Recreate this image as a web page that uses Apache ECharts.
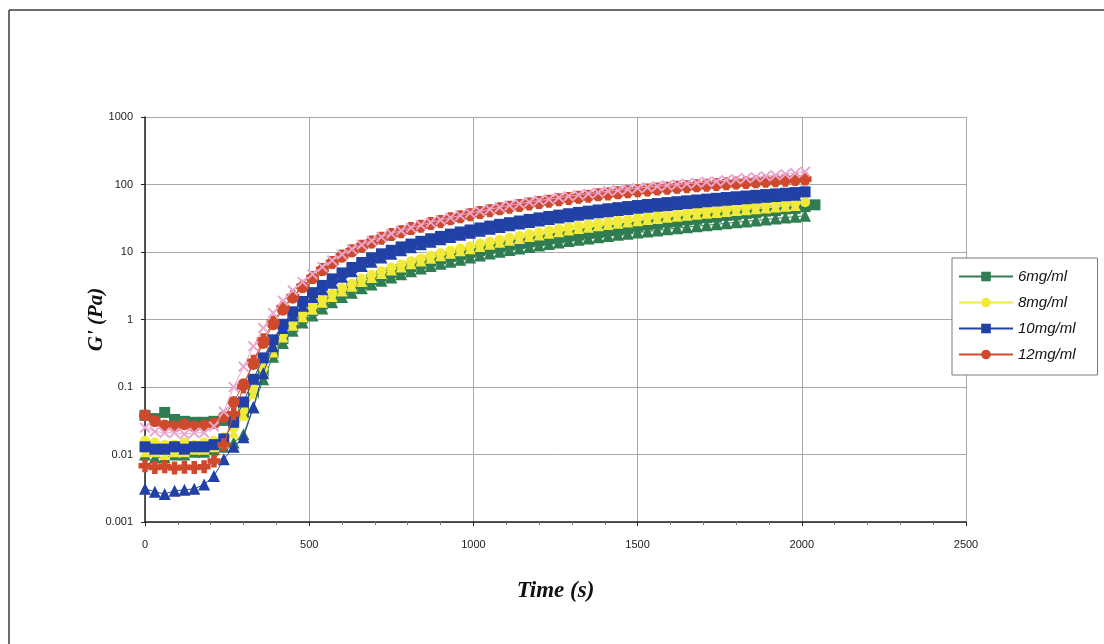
<!DOCTYPE html>
<html>
<head>
<meta charset="utf-8">
<script src="https://cdn.jsdelivr.net/npm/echarts@6/dist/echarts.min.js"></script>
<style>
  html, body { margin: 0; padding: 0; background: #ffffff; }
  #chart { width: 1104px; height: 644px; }
</style>
</head>
<body>
<div id="chart"></div>
<script>
// Storage modulus G' (Pa) against time during gelation, four concentrations plus repeat runs.
const times = [0,30,60,90,120,150,180,210,240,270,300,330,360,390,420,450,480,510,540,570,600,630,660,690,720,750,780,810,840,870,900,930,960,990,1020,1050,1080,1110,1140,1170,1200,1230,1260,1290,1320,1350,1380,1410,1440,1470,1500,1530,1560,1590,1620,1650,1680,1710,1740,1770,1800,1830,1860,1890,1920,1950,1980,2010,2040];

const legendNames = ['6mg/ml', '8mg/ml', '10mg/ml', '12mg/ml'];
const xTickLabels = ['0', '500', '1000', '1500', '2000', '2500'];
const yTickLabels = ['0.001', '0.01', '0.1', '1', '10', '100', '1000'];

// 6 mg/ml
const g6 = [0.038,0.034,0.042,0.033,0.031,0.030,0.030,0.031,0.032,0.034,0.042,0.080,0.17,0.32,0.52,0.78,1.05,1.35,1.7,2.1,2.5,2.95,3.4,3.9,4.4,4.95,5.5,6.1,6.7,7.3,7.9,8.6,9.1,9.9,10.5,11.3,11.9,12.7,13.3,14.1,14.7,15.6,16.2,17.2,17.8,18.9,19.4,20.6,21.0,22.3,24.0,25.2,26.0,27.5,28.2,29.8,30.5,32.2,32.9,34.8,35.4,37.4,38.1,40.3,41.0,43.4,44.2,47.0,50.0];
const g6b = [0.010,0.009,0.009,0.010,0.010,0.011,0.011,0.012,0.013,0.015,0.020,0.050,0.13,0.28,0.45,0.68,0.90,1.15,1.45,1.8,2.15,2.5,2.9,3.3,3.75,4.2,4.7,5.2,5.7,6.2,6.7,7.2,7.7,8.3,8.9,9.5,10.1,10.7,11.3,11.9,12.5,13.1,13.8,14.5,15.2,15.9,16.6,17.3,18.0,18.7,19.4,20.1,20.9,21.7,22.5,23.3,24.1,24.9,25.7,26.6,27.5,28.4,29.4,30.4,31.4,32.4,33.4,34.4];
// 8 mg/ml
const g8 = [0.016,0.015,0.014,0.014,0.015,0.014,0.015,0.016,0.018,0.025,0.045,0.090,0.19,0.36,0.60,0.90,1.20,1.55,1.95,2.4,2.9,3.4,4.0,4.6,5.2,5.9,6.6,7.3,8.0,8.8,9.6,10.4,11.3,12.2,13.2,14.2,15.2,16.2,17.3,18.4,19.5,20.6,21.8,23.0,24.2,25.4,26.6,27.8,29.0,30.3,31.6,32.9,34.2,35.5,36.8,38.1,39.4,40.7,42.0,43.4,44.8,46.2,47.6,49.0,50.4,51.8,53.2,54.6];
const g8b = [0.011,0.011,0.010,0.011,0.011,0.012,0.012,0.013,0.015,0.021,0.038,0.080,0.17,0.33,0.55,0.82,1.10,1.42,1.80,2.2,2.65,3.1,3.65,4.2,4.8,5.4,6.0,6.7,7.35,8.1,8.8,9.6,10.4,11.2,12.1,13.0,13.9,14.9,15.9,16.9,17.9,18.9,20.0,21.1,22.2,23.3,24.4,25.5,26.6,27.8,29.0,30.2,31.4,32.6,33.8,35.0,36.2,37.4,38.6,39.8,41.1,42.4,43.7,45.0,46.3,47.6,48.9];
// 10 mg/ml
const g10 = [0.013,0.012,0.012,0.013,0.012,0.013,0.013,0.014,0.017,0.030,0.060,0.13,0.27,0.50,0.85,1.30,1.85,2.5,3.2,4.0,4.9,5.9,7.0,8.2,9.4,10.6,11.9,13.1,14.4,15.7,17.0,18.4,19.8,21.2,22.7,24.2,25.7,27.2,28.8,30.4,32.0,33.6,35.2,36.9,38.6,40.3,42.0,43.7,45.4,47.1,48.8,50.5,52.2,53.9,55.6,57.3,59.0,60.7,62.4,64.1,65.8,67.5,69.2,70.9,72.6,74.3,76.0,77.8];
const g10b = [0.0031,0.0028,0.0026,0.0029,0.0030,0.0031,0.0036,0.0048,0.0085,0.013,0.018,0.050,0.16,0.40,0.75,1.15,1.60,2.15,2.8,3.5,4.3,5.2,6.2,7.2,8.3,9.4,10.6,11.8,13.0,14.2,15.4,16.7,18.0,19.3,20.7,22.1,23.5,24.9,26.4,27.9,29.4,30.9,32.4,33.9,35.5,37.1,38.7,40.3,41.9,43.5,45.1,46.7,48.3,49.9,51.5,53.1,54.7,56.3,57.9,59.5,61.1,62.7,64.3,65.9,67.5,69.1,70.7];
// 12 mg/ml
const g12 = [0.038,0.031,0.027,0.026,0.028,0.026,0.027,0.029,0.036,0.060,0.11,0.22,0.45,0.85,1.4,2.1,3.0,4.1,5.4,6.9,8.6,10.3,12.1,14.0,16.1,17.9,20.2,22.0,24.3,26.1,28.6,30.9,33.0,35.8,38.1,41.2,43.4,46.3,48.5,51.9,53.8,56.9,59.2,62.4,64.3,67.8,69.6,72.9,75.1,78.4,80.6,83.9,85.7,88.9,90.6,93.4,95.1,98.2,99.6,102.5,104.3,107.4,108.9,111.8,113.5,116.7,118.2,121.0];
const g12b = [0.025,0.022,0.021,0.021,0.020,0.021,0.021,0.026,0.043,0.10,0.20,0.40,0.75,1.25,1.9,2.7,3.6,4.7,6.0,7.5,9.2,11.0,12.8,14.7,16.7,18.7,20.8,22.9,25.1,27.4,29.8,32.2,34.8,37.9,40.3,43.1,46.0,49.0,52.0,55.0,58.0,60.3,64.0,67.0,70.0,73.0,76.0,79.8,82.0,85.0,88.0,91.0,94.0,97.0,100,103,106,109,111,116,120,124,128,133,137,142,148,155];
const g12c = [0.0068,0.0064,0.0066,0.0063,0.0065,0.0064,0.0066,0.0080,0.014,0.040,0.10,0.24,0.50,0.92,1.5,2.2,3.1,4.2,5.5,7.0,8.7,10.4,12.2,14.1,16.0,18.1,20.0,22.2,24.1,26.4,28.4,31.1,33.3,35.6,38.4,40.9,43.7,46.0,48.9,51.4,54.2,56.5,59.6,61.9,64.9,67.1,70.2,72.4,75.5,77.8,81.0,83.2,86.1,88.3,91.0,93.0,95.8,97.6,100.4,102.2,105.0,106.8,109.5,111.3,114.0,115.9,118.6,120.4];

const GREEN = '#2f7d50';
const YELLOW = '#f2ea3a';
const BLUE = '#2141a6';
const RED = '#cf4a2c';
const PINK = '#eaa6cf';

const PLUS = 'path://M3,0 H5 V3 H8 V5 H5 V8 H3 V5 H0 V3 H3 Z';
const CROSS = 'path://M1,0 L4,3 L7,0 L8,1 L5,4 L8,7 L7,8 L4,5 L1,8 L0,7 L3,4 L0,1 Z';

function pairs(vals) {
  return vals.map((v, i) => [times[i], v]);
}

function run(name, vals, color, symbol, size, extra) {
  return Object.assign({
    name: name,
    type: 'line',
    data: pairs(vals),
    symbol: symbol,
    symbolSize: size,
    showSymbol: true,
    lineStyle: { color: color, width: 1 },
    itemStyle: { color: color, borderWidth: 0 },
    emphasis: { disabled: true },
    z: 2
  }, extra || {});
}

const chart = echarts.init(document.getElementById('chart'), null, { renderer: 'canvas' });

chart.setOption({
  animation: false,
  backgroundColor: '#ffffff',
  graphic: [
    {
      type: 'line',
      shape: { x1: 9, y1: 10, x2: 1104, y2: 10 },
      style: { stroke: '#3c3c3c', lineWidth: 1.5 },
      silent: true
    },
    {
      type: 'line',
      shape: { x1: 9, y1: 10, x2: 9, y2: 644 },
      style: { stroke: '#3c3c3c', lineWidth: 1.5 },
      silent: true
    }
  ],
  grid: { left: 145, top: 117, right: 138, bottom: 122, containLabel: false },
  legend: {
    data: legendNames,
    orient: 'vertical',
    left: 952,
    top: 258,
    padding: [11, 22, 13, 6],
    itemGap: 11,
    itemWidth: 54,
    itemHeight: 12,
    backgroundColor: '#ffffff',
    borderColor: '#7a7a7a',
    borderWidth: 1,
    textStyle: {
      fontFamily: "'Liberation Sans Narrow', 'Liberation Sans', Arial, sans-serif",
      fontStyle: 'italic',
      fontSize: 15,
      color: '#111'
    },
    selectedMode: false
  },
  xAxis: {
    type: 'value',
    min: 0,
    max: 2500,
    interval: 500,
    name: 'Time (s)',
    nameLocation: 'middle',
    nameGap: 58,
    nameTextStyle: {
      fontFamily: "'Liberation Serif', 'Times New Roman', serif",
      fontStyle: 'italic',
      fontWeight: 'bold',
      fontSize: 23,
      color: '#111'
    },
    axisLine: { show: true, onZero: false, lineStyle: { color: '#222', width: 1.5 } },
    axisTick: { show: true, length: 4, lineStyle: { color: '#222' } },
    minorTick: { show: true, splitNumber: 5, length: 3, lineStyle: { color: '#777' } },
    axisLabel: {
      margin: 17,
      fontFamily: "'Liberation Sans', Arial, sans-serif",
      fontSize: 11,
      color: '#222',
      formatter: function (v) {
        const k = Math.round(v / 500);
        return xTickLabels[k] !== undefined ? xTickLabels[k] : '';
      }
    },
    splitLine: { show: true, lineStyle: { color: '#a8a8a8', width: 1 } }
  },
  yAxis: {
    type: 'log',
    logBase: 10,
    min: 0.001,
    max: 1000,
    interval: 1,
    name: "G' (Pa)",
    nameLocation: 'middle',
    nameGap: 38,
    nameMoveOverlap: false,
    nameRotate: 90,
    nameTextStyle: {
      fontFamily: "'Liberation Serif', 'Times New Roman', serif",
      fontStyle: 'italic',
      fontWeight: 'bold',
      fontSize: 21,
      color: '#111'
    },
    axisLine: { show: true, lineStyle: { color: '#222', width: 1.5 } },
    axisTick: { show: true, length: 4, lineStyle: { color: '#222' } },
    axisLabel: {
      margin: 12,
      fontFamily: "'Liberation Sans', Arial, sans-serif",
      fontSize: 11,
      color: '#222',
      formatter: function (v) {
        const k = Math.round(Math.log10(v)) + 3;
        return yTickLabels[k] !== undefined ? yTickLabels[k] : '';
      }
    },
    splitLine: { show: true, lineStyle: { color: '#a8a8a8', width: 1 } }
  },
  series: [
    run('6mg/ml', g6, GREEN, 'rect', 11, { z: 2 }),
    run('6mg/ml repeat', g6b, GREEN, 'triangle', 12, { z: 2 }),
    run('8mg/ml', g8, YELLOW, 'circle', 10, { z: 3 }),
    run('8mg/ml repeat', g8b, YELLOW, 'triangle', 11, { z: 3 }),
    run('10mg/ml', g10, BLUE, 'rect', 11, { z: 4 }),
    run('10mg/ml repeat', g10b, BLUE, 'triangle', 12, { z: 4 }),
    run('12mg/ml', g12, RED, 'circle', 12, { z: 5 }),
    run('12mg/ml repeat B', g12c, '#fbe6e2', PLUS, 10, {
      z: 6,
      lineStyle: { color: RED, width: 1 },
      itemStyle: { color: '#fbe6e2', borderColor: RED, borderWidth: 3 }
    }),
    run('12mg/ml repeat A', g12b, PINK, CROSS, 11, { z: 7 })
  ]
});
</script>
</body>
</html>
